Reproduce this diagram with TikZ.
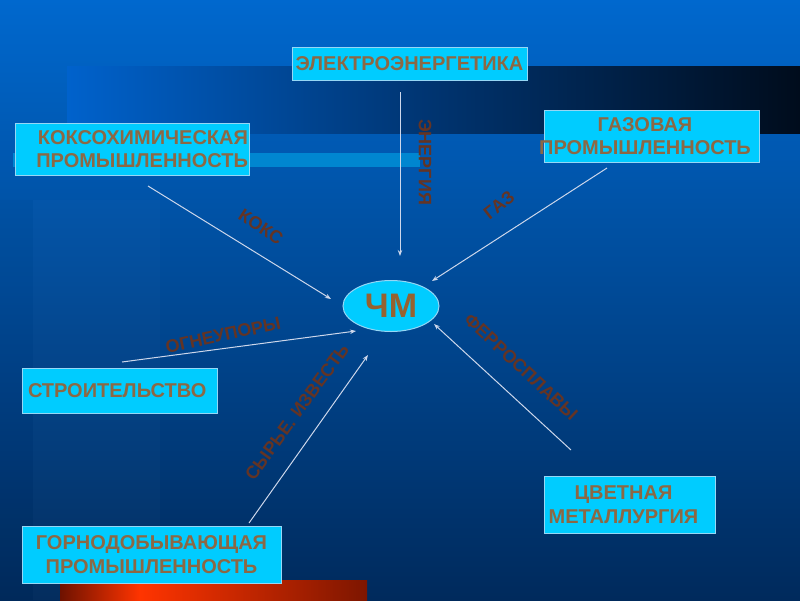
\documentclass[tikz,border=0pt]{standalone}
\usepackage{fontspec}
\setmainfont{Liberation Sans}
\usetikzlibrary{arrows.meta,shapes.geometric}
\definecolor{bgtop}{RGB}{0,104,206}
\definecolor{bgbot}{RGB}{0,42,92}
\definecolor{bandl}{RGB}{0,98,204}
\definecolor{bandm}{RGB}{0,52,112}
\definecolor{bandr}{RGB}{0,12,28}
\definecolor{cyanbar}{RGB}{0,150,220}
\definecolor{boxfill}{RGB}{0,204,255}
\definecolor{boxline}{RGB}{150,215,245}
\definecolor{boxtext}{RGB}{140,104,68}
\definecolor{labtext}{RGB}{100,52,36}
\definecolor{cmtext}{RGB}{150,98,48}
\definecolor{arrowc}{RGB}{205,215,235}
\definecolor{redd}{RGB}{110,18,0}
\definecolor{redb}{RGB}{255,52,0}
\definecolor{redr}{RGB}{125,22,0}
\tikzset{
  box/.style={draw=boxline, line width=1pt, fill=boxfill, rectangle, inner sep=0pt,
    font=\bfseries\fontsize{20}{23.5}\selectfont, text=boxtext},
  lab/.style={font=\bfseries\fontsize{18}{20}\selectfont, text=labtext, inner sep=0pt},
  conn/.style={draw=arrowc, line width=1pt, -{Stealth[length=6pt,width=4.5pt]}}
}
\begin{document}
\begin{tikzpicture}[x=1pt,y=-1pt]
\useasboundingbox (0,0) rectangle (800,600);
% background
\shade[top color=bgtop, bottom color=bgbot] (0,0) rectangle (800,600);
\fill[white, opacity=0.015] (33,200) rectangle (160,600);
\fill[black, opacity=0.02] (0,200) rectangle (33,600);
\shade[left color=bandl, right color=bandr, middle color=bandm] (67,66) rectangle (800,133);
\fill[cyanbar, opacity=0.75] (13,153) rectangle (420,167);
\shade[left color=redd, right color=redb] (60,580) rectangle (140,600);
\shade[left color=redb, right color=redr] (140,580) rectangle (367,600);
% nodes
\node[box, minimum width=235, minimum height=33] (el) at (409.5,63.5) {ЭЛЕКТРОЭНЕРГЕТИКА};
\node[box, minimum width=234, minimum height=52, text width=232, align=right] (koks) at (132,149)
  {КОКСОХИМИЧЕСКАЯ\\ПРОМЫШЛЕННОСТЬ};
\node[box, minimum width=215, minimum height=52, align=center] (gaz) at (651.5,136)
  {\hspace*{-13pt}ГАЗОВАЯ\\\hspace*{-13pt}ПРОМЫШЛЕННОСТЬ};
\node[ellipse, draw=boxline, line width=1pt, fill=boxfill, minimum width=96, minimum height=51,
  inner sep=0pt, font=\bfseries\fontsize{34}{36}\selectfont, text=cmtext] (cm) at (391,306) {ЧМ};
\node[box, minimum width=195, minimum height=45, text width=191, align=left] (str) at (119.5,390.5)
  {\hspace*{4pt}СТРОИТЕЛЬСТВО};
\node[box, minimum width=259, minimum height=57, align=center] (gorn) at (151.5,554.5)
  {ГОРНОДОБЫВАЮЩАЯ\\ПРОМЫШЛЕННОСТЬ};
\node[box, minimum width=171, minimum height=57, align=center] (cvet) at (629.5,504.5)
  {\hspace*{-12pt}ЦВЕТНАЯ\\\hspace*{-12pt}МЕТАЛЛУРГИЯ};
% connector end points
\coordinate (elA) at (400,92);   \coordinate (elB) at (400,256);
\coordinate (koA) at (148,186);  \coordinate (koB) at (331,299);
\coordinate (gaA) at (607,168);  \coordinate (gaB) at (432,281);
\coordinate (stA) at (122,362);  \coordinate (stB) at (356,331);
\coordinate (goA) at (249,523);  \coordinate (goB) at (368,355);
\coordinate (cvA) at (571,450);  \coordinate (cvB) at (434,324);
\draw[conn] (elA) -- (elB);
\draw[conn] (koA) -- (koB);
\draw[conn] (gaA) -- (gaB);
\draw[conn] (stA) -- (stB);
\draw[conn] (goA) -- (goB);
\draw[conn] (cvA) -- (cvB);
% labels
\node[lab, rotate=-90] (lEn) at (425,162) {ЭНЕРГИЯ};
\node[lab, rotate=-33] (lKo) at (261,227) {КОКС};
\node[lab, rotate=38] (lGa) at (499,205) {ГАЗ};
\node[lab, rotate=12] (lOg) at (223,335) {ОГНЕУПОРЫ};
\node[lab, rotate=54] (lSy) at (297,412) {СЫРЬЕ. ИЗВЕСТЬ};
\node[lab, rotate=-43] (lFe) at (521,367) {ФЕРРОСПЛАВЫ};
\end{tikzpicture}
\end{document}
